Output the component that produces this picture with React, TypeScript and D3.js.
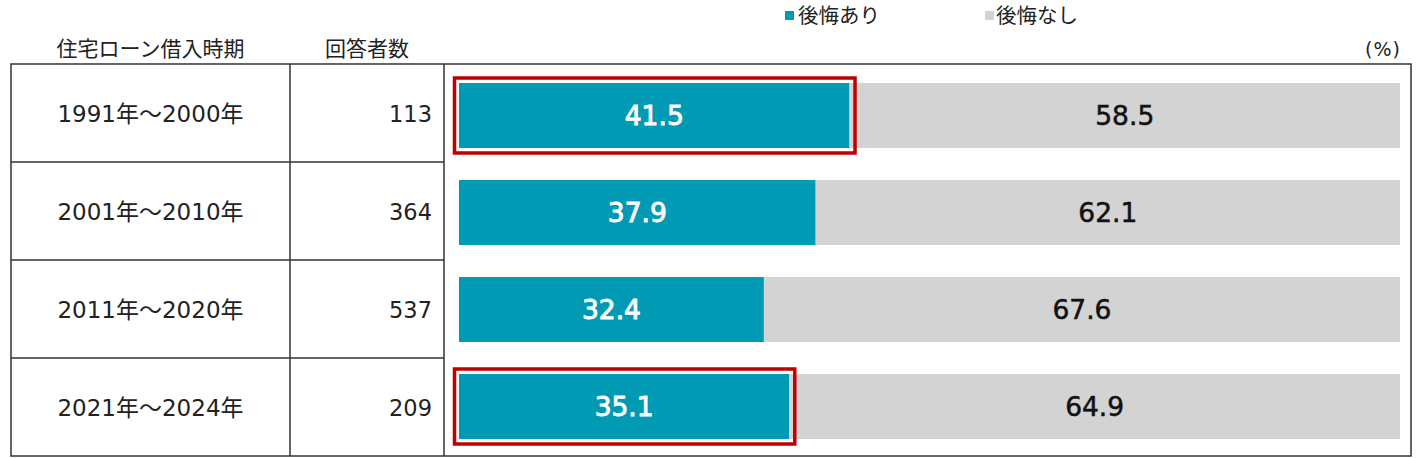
import React from "react";
import * as d3 from "d3";

const categories = ["1991年～2000年", "2001年～2010年", "2011年～2020年", "2021年～2024年"];
const respondents = [113, 364, 537, 209];
const regretYes = [41.5, 37.9, 32.4, 35.1];
const regretNo = [58.5, 62.1, 67.6, 64.9];
const highlighted = [true, false, false, true];
const seriesNames = ["後悔あり", "後悔なし"];
const headers = ["住宅ローン借入時期", "回答者数"];

const W = 1416;
const H = 458;
const TEAL = "#009AB4";
const GRAY = "#D3D3D3";
const RED = "#C00000";
const LINE = "#333";
const FONT = "'DejaVu Sans', 'Noto Sans CJK JP', sans-serif";
const CJK = "'Noto Sans CJK JP', sans-serif";

export default function App() {
  const tableLeft = 11, tableRight = 1411, tableTop = 64, tableBottom = 456;
  const col1 = 290, col2 = 444;

  const x = d3.scaleLinear().domain([0, 100]).range([459, 1400]);
  const rowBand = d3.scaleBand<string>().domain(categories).range([tableTop, tableBottom]).padding(0);
  const y = d3
    .scaleBand<string>()
    .domain(categories)
    .range([67, 455])
    .paddingInner(0.33)
    .paddingOuter(0.165);
  const bw = y.bandwidth();

  return (
    <svg
      width={W}
      height={H}
      style={{ position: "absolute", left: 0, top: 0, background: "#fff" }}
      fontFamily={FONT}
    >
      {/* legend */}
      <rect x={785} y={11} width={9} height={9} fill={TEAL} />
      <text x={798} y={23} fontSize={20.5} fill="#222" fontFamily={CJK}>{seriesNames[0]}</text>
      <rect x={985} y={11} width={9} height={9} fill={GRAY} />
      <text x={996} y={23} fontSize={20.5} fill="#222" fontFamily={CJK}>{seriesNames[1]}</text>

      {/* headers */}
      <text x={(tableLeft + col1) / 2} y={56} fontSize={21} textAnchor="middle" fill="#222" fontFamily={CJK}>{headers[0]}</text>
      <text x={(col1 + col2) / 2} y={56} fontSize={21} textAnchor="middle" fill="#222" fontFamily={CJK}>{headers[1]}</text>
      <text x={1401} y={56} fontSize={19} textAnchor="end" fill="#222" letterSpacing={1}>(%)</text>

      {/* table lines */}
      <rect x={tableLeft} y={tableTop} width={tableRight - tableLeft} height={tableBottom - tableTop} fill="none" stroke={LINE} strokeWidth={1.5} />
      <line x1={col1} x2={col1} y1={tableTop} y2={tableBottom} stroke={LINE} strokeWidth={1.5} />
      <line x1={col2} x2={col2} y1={tableTop} y2={tableBottom} stroke={LINE} strokeWidth={1.5} />
      {categories.slice(1).map((c) => (
        <line key={c} x1={tableLeft} x2={col2} y1={rowBand(c)!} y2={rowBand(c)!} stroke={LINE} strokeWidth={1.5} />
      ))}

      {categories.map((c, i) => {
        const cy = rowBand(c)! + rowBand.bandwidth() / 2;
        const by = y(c)!;
        const x0 = x(0);
        const x1 = x(regretYes[i]);
        const x2 = x(regretYes[i] + regretNo[i]);
        return (
          <g key={c}>
            <text x={(tableLeft + col1) / 2} y={cy + 1} dy="0.36em" fontSize={23} textAnchor="middle" fill="#222">{c}</text>
            <text x={432} y={cy + 1} dy="0.36em" fontSize={22.5} textAnchor="end" fill="#222">{respondents[i]}</text>
            <rect x={x0} y={by} width={x1 - x0} height={bw} fill={TEAL} />
            <rect x={x1} y={by} width={x2 - x1} height={bw} fill={GRAY} />
            {highlighted[i] && (
              <rect x={x0 - 4.5} y={by - 5} width={x1 - x0 + 10} height={bw + 10} fill="none" stroke={RED} strokeWidth={3.5} />
            )}
            <text x={(x0 + x1) / 2} y={by + bw / 2} dy="0.36em" fontSize={26.5} textAnchor="middle" fill="#fff" stroke="#fff" strokeWidth={0.9}>{regretYes[i].toFixed(1)}</text>
            <text x={(x1 + x2) / 2} y={by + bw / 2} dy="0.36em" fontSize={26.5} textAnchor="middle" fill="#111" stroke="#111" strokeWidth={0.5}>{regretNo[i].toFixed(1)}</text>
          </g>
        );
      })}
    </svg>
  );
}
